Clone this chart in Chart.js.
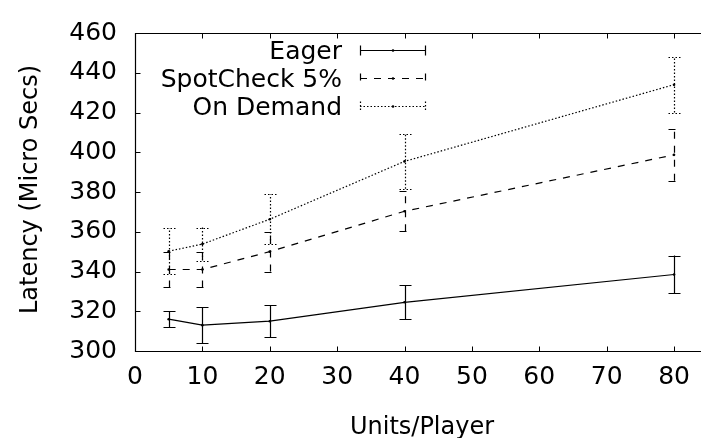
<!DOCTYPE html>
<html>
<head>
<meta charset="utf-8">
<script src="https://cdn.jsdelivr.net/npm/chart.js@4/dist/chart.umd.min.js"></script>
<style>
html,body{margin:0;padding:0;background:#fff;}
#wrap{width:701px;height:438px;position:relative;}
</style>
</head>
<body>
<div id="wrap"><canvas id="c" width="701" height="438"></canvas></div>
<script>
const unitsPerPlayer = [5, 10, 20, 40, 80];
const eagerMean = [316, 313, 315, 324.5, 338.5];
const eagerErr = [4, 9, 8, 8.5, 9.5];
const spotMean = [341, 341, 350, 370.3, 398.7];
const spotErr = [9, 9, 10, 10, 13];
const demandMean = [350.2, 353.8, 366.3, 395.4, 434];
const demandErr = [11.5, 8.3, 12.5, 13.8, 14];
const seriesNames = ['Eager', 'SpotCheck 5%', 'On Demand'];
const xTicks = [0, 10, 20, 30, 40, 50, 60, 70, 80];
const yTicks = [300, 320, 340, 360, 380, 400, 420, 440, 460];
const xTitle = 'Units/Player';
const yTitle = 'Latency (Micro Secs)';

const FONT = 'DejaVu Sans';
const FS = 24;
const TFS = 25;
const LW = 1.2;
const dashes = [[], [7, 7], [1.5, 2]];
const means = [eagerMean, spotMean, demandMean];
const errs = [eagerErr, spotErr, demandErr];

const datasets = means.map((m, i) => ({
  label: seriesNames[i],
  data: unitsPerPlayer.map((x, j) => ({x: x, y: m[j]})),
  borderColor: '#000',
  backgroundColor: '#000',
  borderWidth: LW,
  borderDash: dashes[i],
  pointRadius: 1.3,
  pointBorderWidth: 0,
  pointHoverRadius: 1.3,
  showLine: true,
  tension: 0,
  fill: false
}));

const extras = {
  id: 'extras',
  afterDatasetsDraw(chart) {
    const ctx = chart.ctx;
    const xs = chart.scales.x, ys = chart.scales.y;
    const ca = chart.chartArea;
    ctx.save();
    ctx.strokeStyle = '#000';
    ctx.lineWidth = LW;
    // error bars
    means.forEach((m, i) => {
      ctx.setLineDash(dashes[i]);
      unitsPerPlayer.forEach((x, j) => {
        const px = Math.round(xs.getPixelForValue(x)) + 0.5;
        const lo = ys.getPixelForValue(m[j] - errs[i][j]);
        const hi = ys.getPixelForValue(m[j] + errs[i][j]);
        const cw = 6;
        ctx.beginPath();
        ctx.moveTo(px, lo); ctx.lineTo(px, hi);
        ctx.moveTo(px - cw, Math.round(lo) + 0.5); ctx.lineTo(px + cw, Math.round(lo) + 0.5);
        ctx.moveTo(px - cw, Math.round(hi) + 0.5); ctx.lineTo(px + cw, Math.round(hi) + 0.5);
        ctx.stroke();
      });
    });
    ctx.setLineDash([]);
    // frame (left, top, bottom)
    ctx.lineWidth = 1.2;
    const L = Math.round(ca.left) + 0.5, T = Math.round(ca.top) + 0.5, B = Math.round(ca.bottom) + 0.5;
    ctx.beginPath();
    ctx.moveTo(ca.right + 2, T); ctx.lineTo(L, T); ctx.lineTo(L, B); ctx.lineTo(ca.right + 2, B);
    ctx.stroke();
    // inward ticks
    ctx.lineWidth = 1;
    ctx.beginPath();
    xTicks.forEach(v => {
      const px = Math.round(xs.getPixelForValue(v)) + 0.5;
      ctx.moveTo(px, B); ctx.lineTo(px, B - 5);
      ctx.moveTo(px, T); ctx.lineTo(px, T + 5);
    });
    yTicks.forEach(v => {
      const py = Math.round(ys.getPixelForValue(v)) + 0.5;
      ctx.moveTo(L, py); ctx.lineTo(L + 5, py);
    });
    ctx.stroke();
    // axis titles
    ctx.font = FS + 'px "' + FONT + '"';
    ctx.fillStyle = '#000';
    ctx.textBaseline = 'alphabetic';
    ctx.textAlign = 'center';
    ctx.fillText(xTitle, 422, 434);
    ctx.save();
    ctx.translate(37, 189.5);
    ctx.rotate(-Math.PI / 2);
    ctx.fillText(yTitle, 0, 0);
    ctx.restore();
    // legend
    ctx.font = TFS + 'px "' + FONT + '"';
    ctx.lineWidth = LW;
    const rows = [50, 78, 106];
    ctx.textAlign = 'right';
    seriesNames.forEach((name, i) => {
      const y = rows[i];
      ctx.fillText(name, 342, y + 9);
      ctx.setLineDash(dashes[i]);
      const yy = y + 0.5;
      ctx.beginPath();
      ctx.moveTo(360, yy); ctx.lineTo(426, yy);
      ctx.moveTo(360.5, yy - 5); ctx.lineTo(360.5, yy + 5);
      ctx.moveTo(425.5, yy - 5); ctx.lineTo(425.5, yy + 5);
      ctx.stroke();
      ctx.setLineDash([]);
      ctx.beginPath();
      ctx.arc(393, yy, 1.3, 0, Math.PI * 2);
      ctx.fill();
    });
    ctx.restore();
  }
};

new Chart(document.getElementById('c'), {
  type: 'scatter',
  data: {datasets: datasets},
  options: {
    responsive: false,
    animation: false,
    devicePixelRatio: 1,
    layout: {padding: {top: 24, right: 0, left: 0, bottom: 0}},
    plugins: {legend: {display: false}, tooltip: {enabled: false}},
    scales: {
      x: {
        type: 'linear',
        min: 0,
        max: 83.74,
        afterBuildTicks(s) { s.ticks = xTicks.map(v => ({value: v})); },
        afterFit(s) { s.height = 87; },
        grid: {display: false, drawTicks: false},
        border: {display: false},
        ticks: {color: '#000', font: {family: FONT, size: TFS}, padding: 11, maxRotation: 0, autoSkip: false}
      },
      y: {
        type: 'linear',
        min: 300,
        max: 460,
        afterBuildTicks(s) { s.ticks = yTicks.map(v => ({value: v})); },
        afterFit(s) { s.width = 135; },
        grid: {display: false, drawTicks: false},
        border: {display: false},
        ticks: {color: '#000', font: {family: FONT, size: TFS}, padding: 18, autoSkip: false}
      }
    }
  },
  plugins: [extras]
});
</script>
</body>
</html>
